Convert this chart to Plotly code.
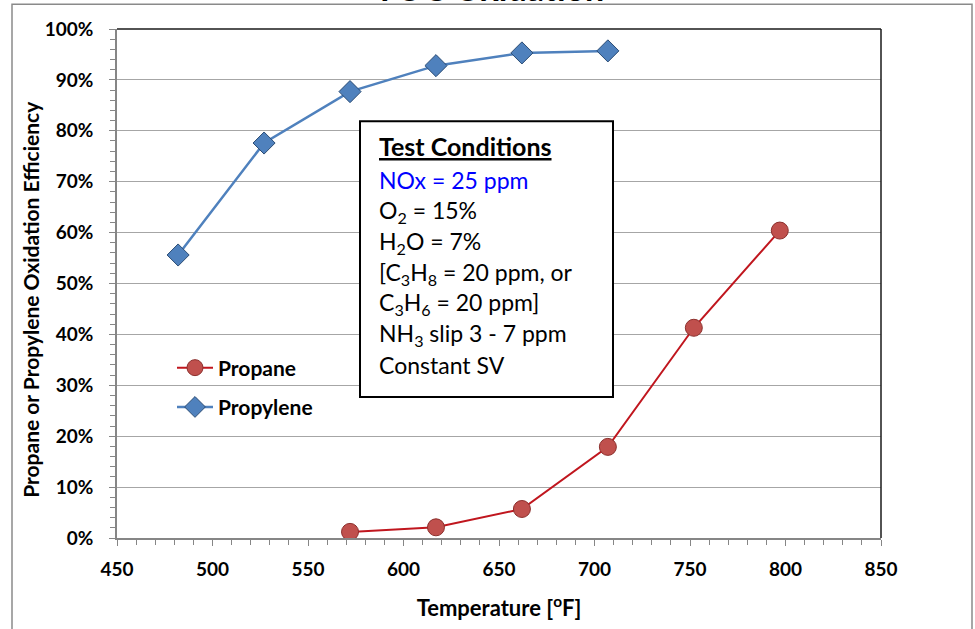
import plotly.graph_objects as go

# ---- data ----
propane_x = [572, 617, 662, 707, 752, 797]
propane_y = [0.012, 0.021, 0.057, 0.179, 0.413, 0.604]
propylene_x = [482, 527, 572, 617, 662, 707]
propylene_y = [0.556, 0.776, 0.877, 0.928, 0.953, 0.957]

title_text = "VOC Oxidation"
x_title = "Temperature [<sup>o</sup>F]"
y_title = "Propane or Propylene Oxidation Efficiency"
box_lines = [
    "<b><u>Test Conditions</u></b>",
    "<span style='color:#0000FF'>NOx = 25 ppm</span>",
    "O<sub>2</sub> = 15%",
    "H<sub>2</sub>O = 7%",
    "[C<sub>3</sub>H<sub>8</sub> = 20 ppm, or",
    "C<sub>3</sub>H<sub>6</sub> = 20 ppm]",
    "NH<sub>3</sub> slip 3 - 7 ppm",
    "Constant SV",
]

FONT = "Lato, 'Open Sans', sans-serif"
W, H = 975, 629
L, R, T, B = 117, 881, 29, 542  # plot area bounds in pixels


def px(xp):
    return (xp - L) / (R - L)


def py(yp):
    return (B - yp) / (B - T)


fig = go.Figure()
fig.add_trace(go.Scatter(
    x=propane_x, y=propane_y, name="Propane", mode="lines+markers",
    legendgroup="a",
    line=dict(color="#C0161E", width=2),
    marker=dict(symbol="circle", size=17, color="#C0504D",
                line=dict(color="#8C2F2C", width=1)),
))
fig.add_trace(go.Scatter(
    x=propylene_x, y=propylene_y, name="Propylene", mode="lines+markers",
    legendgroup="b",
    line=dict(color="#4F81BD", width=2.5),
    marker=dict(symbol="diamond", size=17, color="#4F81BD",
                line=dict(color="#2C4D75", width=1)),
))

shapes = [
    # outer chart border
    dict(type="rect", xref="paper", yref="paper", x0=px(12), x1=px(972),
         y0=py(650), y1=py(4), line=dict(color="#8A8A8A", width=1.5),
         fillcolor="rgba(0,0,0,0)", layer="below"),
    # top and right plot border
    dict(type="line", xref="paper", yref="paper", x0=0, x1=1, y0=1, y1=1,
         line=dict(color="#1A1A1A", width=1.5)),
    dict(type="line", xref="paper", yref="paper", x0=1, x1=1, y0=0, y1=1,
         line=dict(color="#1A1A1A", width=1.5)),
    # text box
    dict(type="rect", xref="paper", yref="paper", x0=px(360), x1=px(613),
         y0=py(400), y1=py(122), line=dict(color="#000000", width=2),
         fillcolor="white", layer="above"),
]

annotations = [
    dict(text="<b>" + title_text + "</b>", xref="paper", yref="paper",
         x=px(488), y=py(10), xanchor="center", yanchor="bottom",
         showarrow=False, font=dict(family=FONT, size=34, color="#000000")),
    dict(text="<b>" + y_title + "</b>", xref="paper", yref="paper",
         x=px(31), y=py(302), xanchor="center", yanchor="middle",
         textangle=-90, showarrow=False,
         font=dict(family=FONT, size=21, color="#000000")),
]
line_centers = [147, 181, 213, 244, 275, 306, 337, 368]
line_sizes = [25, 23, 23, 23, 23, 23, 23, 23]
for txt, yc, fs in zip(box_lines, line_centers, line_sizes):
    annotations.append(dict(
        text=txt, xref="paper", yref="paper", x=px(377), y=py(yc),
        xanchor="left", yanchor="middle", showarrow=False, align="left",
        font=dict(family=FONT, size=fs, color="#000000")))

fig.update_layout(
    width=W, height=H,
    margin=dict(l=L, r=W - R, t=T, b=H - B),
    paper_bgcolor="white", plot_bgcolor="white",
    font=dict(family=FONT, color="#000000"),
    showlegend=True,
    legend=dict(x=px(172), y=py(350), xanchor="left", yanchor="top",
                bgcolor="rgba(0,0,0,0)", tracegroupgap=9, itemwidth=36,
                font=dict(family=FONT, size=21, color="#000000", weight="bold")),
    shapes=shapes,
    annotations=annotations,
    xaxis=dict(
        range=[450, 850], dtick=50, tick0=450,
        showgrid=False, zeroline=False,
        showline=True, linecolor="#868686", linewidth=1.5,
        ticks="outside", ticklen=6, tickcolor="#868686",
        minor=dict(dtick=10, ticks="outside", ticklen=5, tickcolor="#868686", showgrid=False),
        tickfont=dict(family=FONT, size=19, color="#000000", weight="bold"),
        ticklabelstandoff=7,
        title=dict(text="<b>" + x_title + "</b>", standoff=22,
                   font=dict(family=FONT, size=22, color="#000000")),
    ),
    yaxis=dict(
        range=[0, 1], dtick=0.1, tick0=0, tickformat=".0%",
        showgrid=True, gridcolor="#A6A6A6", gridwidth=1,
        zeroline=False,
        showline=True, linecolor="#868686", linewidth=1.5,
        ticks="outside", ticklen=6, tickcolor="#868686",
        minor=dict(dtick=0.02, ticks="outside", ticklen=5, tickcolor="#868686", showgrid=False),
        tickfont=dict(family=FONT, size=19, color="#000000", weight="bold"),
        ticklabelstandoff=12,
    ),
)

fig.write_html(
    "out.html",
    config={"displayModeBar": False},
    post_script="document.body.style.margin='0';document.body.style.overflow='hidden';",
)
